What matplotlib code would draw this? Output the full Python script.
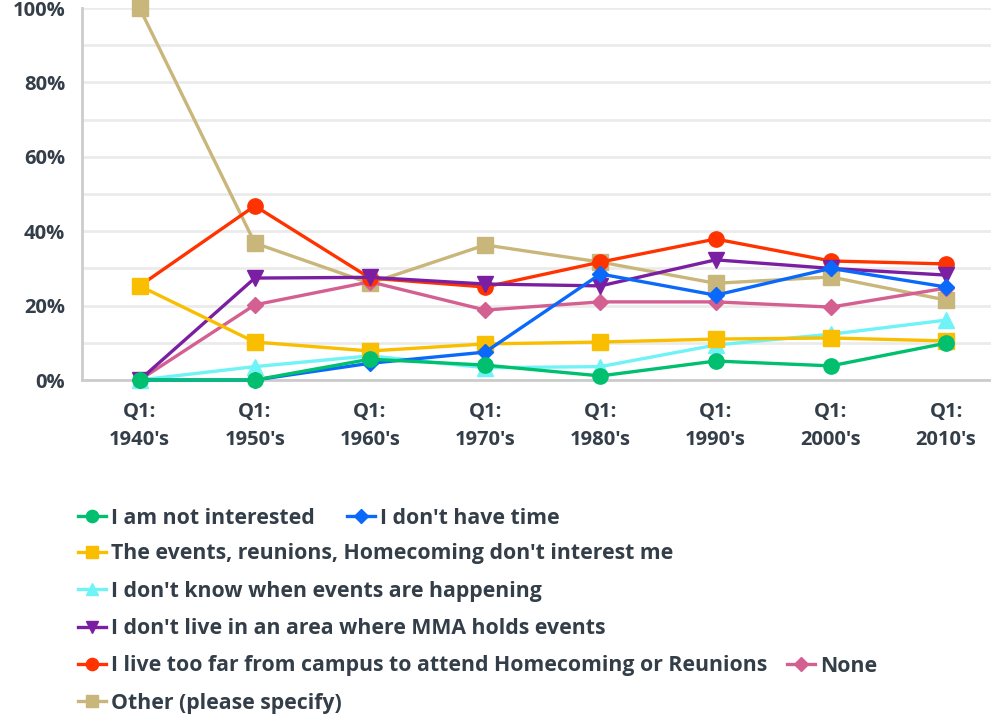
import numpy as np
import matplotlib.pyplot as plt
from matplotlib.ticker import MultipleLocator

# Categorias e séries (valores em %)
decades = ["Q1:\n1940's", "Q1:\n1950's", "Q1:\n1960's", "Q1:\n1970's",
           "Q1:\n1980's", "Q1:\n1990's", "Q1:\n2000's", "Q1:\n2010's"]

not_interested = [0, 0, 5.6, 4.0, 1.1, 5.1, 3.8, 9.9]
no_time = [0, 0, 4.5, 7.5, 28.5, 22.8, 30.0, 25.0]
events_no_interest = [25.3, 10.2, 7.8, 9.7, 10.2, 11.0, 11.3, 10.5]
dont_know = [0, 3.6, 6.5, 3.3, 3.6, 9.4, 12.3, 16.1]
not_area = [0, 27.4, 27.6, 25.8, 25.3, 32.3, 30.0, 28.2]
too_far = [25.3, 46.8, 27.4, 25.0, 31.7, 37.9, 32.0, 31.2]
none = [0, 20.2, 26.4, 18.8, 21.0, 21.0, 19.6, 24.7]
other = [100, 36.8, 26.0, 36.3, 31.7, 26.0, 27.7, 21.5]

labels = ["I am not interested", "I don't have time",
          "The events, reunions, Homecoming don't interest me",
          "I don't know when events are happening",
          "I don't live in an area where MMA holds events",
          "I live too far from campus to attend Homecoming or Reunions",
          "None", "Other (please specify)"]
series = [not_interested, no_time, events_no_interest, dont_know,
          not_area, too_far, none, other]
colors = ['#00bf6f', '#0a69fa', '#f9be00', '#6ff3f6',
          '#7b1fa2', '#ff3300', '#d45f91', '#c9b67a']
markers = ['o', 'D', 's', '^', 'v', 'o', 'D', 's']
msizes = [11, 8.5, 11, 11, 11, 11, 8.5, 11]

txt = '#333e48'
plt.rcParams['font.family'] = ['Open Sans', 'DejaVu Sans']

fig = plt.figure(figsize=(9.91, 7.16), dpi=100)
ax = fig.add_axes([82 / 991, 1 - 380 / 716, 1 - 82 / 991, 372 / 716])

x = np.arange(len(decades))
lines = []
for i, (s, c, m, ms, lab) in enumerate(zip(series, colors, markers, msizes, labels)):
    ln, = ax.plot(x, s, color=c, marker=m, markersize=ms, linewidth=2.4,
                  label=lab, zorder=10 - i, clip_on=False)
    lines.append(ln)

ax.set_xlim(-0.5, 7.39)
ax.set_ylim(0, 100)
ax.set_yticks(np.arange(0, 101, 20))
ax.set_yticklabels([f'{v}%' for v in range(0, 101, 20)])
ax.yaxis.set_minor_locator(MultipleLocator(10))
ax.grid(True, which='both', axis='y', color='#ebebeb', linewidth=2)
ax.set_axisbelow(True)
ax.set_xticks(x)
ax.set_xticklabels(decades, linespacing=1.55)
ax.tick_params(axis='both', which='both', length=0, labelsize=14.5, colors=txt)
ax.tick_params(axis='y', pad=12)
ax.tick_params(axis='x', pad=16)
for t in ax.get_xticklabels() + ax.get_yticklabels():
    t.set_fontweight('bold')
for sp in ['top', 'right']:
    ax.spines[sp].set_visible(False)
for sp in ['left', 'bottom']:
    ax.spines[sp].set_color('#cccccc')
    ax.spines[sp].set_linewidth(2)

# Legenda manual em linhas
rows = [(0, 78, 518), (1, 347, 518), (2, 78, 554), (3, 78, 591),
        (4, 78, 629), (5, 78, 666), (6, 787, 666), (7, 78, 703)]
for idx, px, py in rows:
    fig.legend([lines[idx]], [labels[idx]], loc='center left',
               bbox_to_anchor=(px / 991, 1 - py / 716), frameon=False,
               handlelength=1.3, handletextpad=0.25, borderaxespad=0,
               borderpad=0, prop={'size': 15.3, 'weight': 'bold'},
               labelcolor=txt, markerscale=0.8)

fig.savefig('out.png', dpi=100, facecolor='white')
